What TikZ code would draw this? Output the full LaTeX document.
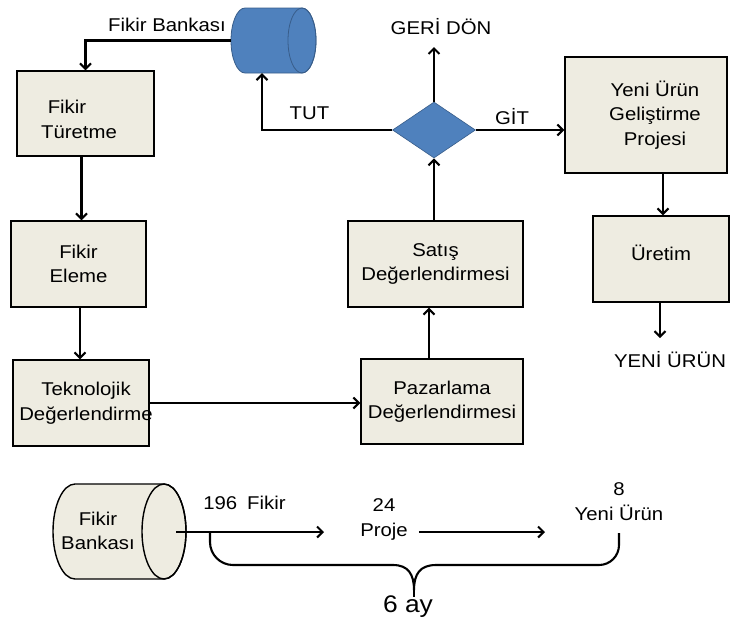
\documentclass[tikz,border=0pt]{standalone}
\usepackage{fontspec}
\setmainfont{Liberation Sans}[FakeStretch=1.1]
\usetikzlibrary{arrows.meta,shapes.geometric,calc}
\definecolor{cream}{HTML}{EEECE1}
\definecolor{cblue}{HTML}{4F81BD}
\definecolor{cbluedark}{HTML}{385D8A}
\begin{document}
\begin{tikzpicture}[x=1pt,y=-1pt,
  txt/.style={font=\fontsize{18.5}{24.5}\selectfont, align=center, inner sep=1pt},
  box/.style={draw=black, line width=1.4pt, fill=cream, rectangle, inner sep=0pt, font=\fontsize{18.5}{24.5}\selectfont, align=center},
  conn/.style={line width=2.1pt, -{Straight Barb[length=5.5pt,width=11pt]}},
  bracepath/.style={line width=2.1pt, line join=round}
]
\useasboundingbox (0,0) rectangle (739,625);

% boxes
\node[box, minimum width=137pt, minimum height=85pt,
  label={[txt,xshift=-6.5pt,yshift=-6pt]center:{Fikir\rule{24pt}{0pt}\\Türetme}}] (tur) at (85.5,113.5) {};
\node[box, minimum width=135pt, minimum height=86pt] (el) at (78.5,264) {Fikir\\Eleme};
\node[box, minimum width=136pt, minimum height=86pt,
  label={[txt,xshift=5pt]center:{Teknolojik\\Değerlendirme}}] (tek) at (81,403) {};
\node[box, minimum width=175pt, minimum height=86pt] (sat) at (435.5,264) {Satış\\Değerlendirmesi};
\node[box, minimum width=162pt, minimum height=85pt] (paz) at (442,401.5) {Pazarlama\\Değerlendirmesi};
\node[box, minimum width=162pt, minimum height=116pt,
  label={[txt,xshift=9pt]center:{Yeni Ürün\\Geliştirme\\Projesi}}] (yu) at (646,115) {};
\node[box, minimum width=136pt, minimum height=86pt,
  label={[txt,yshift=6pt]center:{Üretim}}] (ur) at (661,259) {};

% decision diamond
\node[diamond, fill=cblue, draw=cbluedark, line width=0.6pt, minimum width=83pt, minimum height=56pt, inner sep=0pt] (dia) at (434,130) {};

% top cylinder (Fikir Bankasi)
\node[minimum width=85pt, minimum height=65pt, inner sep=0pt] (cyl1) at (273.5,40.5) {};
\filldraw[fill=cblue, draw=cbluedark, line width=0.8pt] (245,8) -- (302,8)
  arc[start angle=90,end angle=-90,x radius=14pt,y radius=32.5pt] -- (245,73)
  arc[start angle=270,end angle=90,x radius=14pt,y radius=32.5pt] -- cycle;
\draw[cbluedark, line width=0.8pt] (302,40.5) ellipse[x radius=14pt, y radius=32.5pt];
\node[txt] (fb) at (167,25) {Fikir Bankası};

% labels
\node[txt] (tut) at (309.5,113) {TUT};
\node[txt] (git) at (512,117) {GİT};
\node[txt] (gd) at (441,27) {GERİ DÖN};
\node[txt] (yn) at (670,360) {YENİ ÜRÜN};
\coordinate (gdtip) at (434,47);
\coordinate (yntip) at (660,338);

% connectors
\draw[conn] (cyl1.west) -| (tur.north);
\draw[conn] ([xshift=-4pt]tur.south) -- ([xshift=-4pt]tur.south |- el.north);
\draw[conn] ([xshift=1.5pt]el.south) -- ([xshift=1.5pt]el.south |- tek.north);
\draw[conn] (tek.east) -- (tek.east -| paz.west);
\draw[conn] ([xshift=-13pt]paz.north) -- ([xshift=-13pt]paz.north |- sat.south);
\draw[conn] (dia.south |- sat.north) -- (dia.south);
\draw[conn] (dia.north) -- (gdtip);
\draw[conn] (dia.west) -| ([xshift=-11.5pt]cyl1.south);
\draw[conn] (dia.east) -- (dia.east -| yu.west);
\draw[conn] ([xshift=17pt]yu.south) -- ([xshift=17pt]yu.south |- ur.north);
\draw[conn] ([xshift=-1pt]ur.south) -- (yntip);

% bottom cylinder
\filldraw[fill=cream, draw=black, line width=1.4pt] (75,484) -- (164,484)
  arc[start angle=90,end angle=-90,x radius=22pt,y radius=47.5pt] -- (75,579)
  arc[start angle=270,end angle=90,x radius=22pt,y radius=47.5pt] -- cycle;
\draw[line width=1.4pt] (164,531.5) ellipse[x radius=22pt,y radius=47.5pt];
\node[txt] (fb2) at (98,531) {Fikir\\Bankası};

\coordinate (b2out) at (176,532);
\coordinate (a1tip) at (324,532);
\coordinate (a2tip) at (545,532);
\node[txt] (fik) at (244.5,503) {196\hspace{10pt}Fikir};
\node[txt] (proj) at (384,519.5) {24\\Proje};
\node[txt] (ny) at (619,501.5) {8\\Yeni Ürün};
\draw[conn] (b2out) -- (a1tip);
\draw[conn, shorten <=10pt] (proj.east |- b2out) -- (a2tip);

% brace
\draw[bracepath] (210,532) -- (210,542) arc[start angle=180,end angle=270,radius=23pt]
  -- (393,565) .. controls (408,565) and (414,574) .. (414,590)
  .. controls (414,574) and (420,565) .. (436,565) -- (599,565)
  arc[start angle=270,end angle=360,radius=20pt] -- (619,533);
\draw[bracepath] (414,588) -- (414,597);
\node[font=\fontsize{24}{27}\selectfont, inner sep=1pt] (six) at (408,607) {6 ay};
\end{tikzpicture}
\end{document}
